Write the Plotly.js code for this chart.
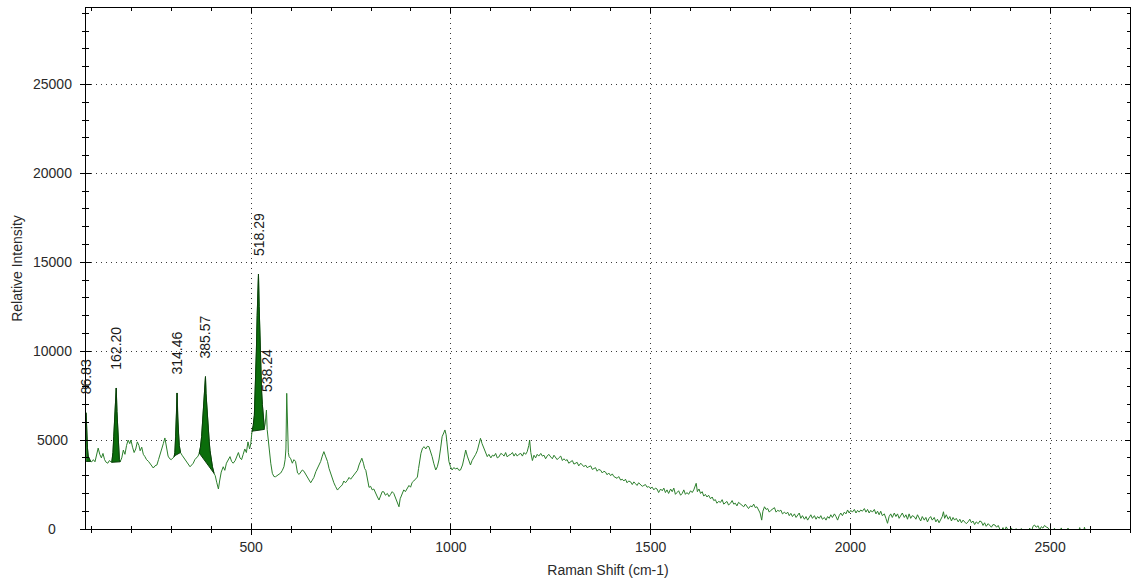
<!DOCTYPE html>
<html>
<head>
<meta charset="utf-8">
<script src="https://cdn.plot.ly/plotly-3.0.1.min.js"></script>
<style>
  html, body { margin: 0; padding: 0; background: #ffffff; }
  #chart { width: 1131px; height: 583px; }
</style>
</head>
<body>
<div id="chart"></div>
<script>
// Raman spectrum: shift (cm-1) and relative intensity
const ramanShift = [
  86.83, 88, 90, 92, 95, 98, 101, 105, 109, 113, 117, 121, 125, 129, 133, 137, 141, 145, 149,
  151, 154, 156, 158, 160, 162.2, 164, 166, 168, 170, 172, 176, 180, 184, 188, 192, 196, 199,
  203, 207, 211, 215, 219, 222, 226, 230, 234, 238, 243, 247, 251, 255, 259, 264, 268, 272,
  276, 280, 284, 288, 292, 296, 300, 304, 307, 309, 311, 313, 314.46, 316, 318, 320, 323,
  327, 330, 334, 338, 342, 347, 351, 355, 359, 363, 367, 370, 373, 376, 379, 381, 383, 385.57,
  387, 389, 391, 393, 395, 397, 400, 403, 407, 410, 414, 418, 421, 425, 430, 434, 438, 443,
  447, 451, 455, 460, 464, 468, 472, 476, 480, 484, 488, 492, 496, 499, 502, 505, 508, 511,
  513, 515, 516.5, 518.29, 520, 522, 524, 526, 528, 530, 533, 535, 538.24, 540, 543, 546, 549,
  553, 557, 561, 565, 570, 574, 578, 582, 585, 587, 589, 591, 593, 595, 599, 603, 607, 611,
  616, 620, 624, 628, 632, 636, 641, 645, 649, 653, 657, 662, 666, 670, 674, 678, 682, 686,
  691, 695, 699, 703, 707, 711, 716, 720, 724, 728, 732, 736, 741, 745, 749, 753, 757, 761,
  766, 770, 774, 777, 781, 784, 787, 791, 795, 799, 803, 807, 811, 816, 820, 824, 828, 832,
  836, 841, 845, 849, 853, 857, 861, 865, 868, 870, 873, 878, 882, 886, 891, 895, 899, 903,
  907, 911, 916, 919, 922, 925, 929, 933, 937, 941, 945, 949, 953, 957, 962, 966, 970, 974,
  978, 982, 985, 988, 991, 995, 999, 1003, 1007, 1012, 1016, 1020, 1024, 1029, 1033, 1037,
  1041, 1045, 1049, 1053, 1057, 1062, 1066, 1070, 1074, 1078, 1083, 1087, 1091, 1095, 1100,
  1104, 1108, 1112, 1116, 1120, 1125, 1129, 1133, 1137, 1141, 1145, 1150, 1154, 1158, 1162,
  1166, 1170, 1175, 1179, 1183, 1187, 1191, 1195, 1197, 1200, 1204, 1208, 1212, 1216, 1220,
  1225, 1229, 1233, 1237, 1241, 1245, 1250, 1254, 1258, 1262, 1266, 1270, 1275, 1279, 1283,
  1287, 1291, 1295, 1300, 1304, 1308, 1312, 1316, 1320, 1325, 1329, 1333, 1337, 1341, 1345,
  1350, 1354, 1358, 1362, 1366, 1370, 1375, 1379, 1383, 1387, 1391, 1395, 1400, 1404, 1408,
  1412, 1416, 1420, 1425, 1429, 1433, 1437, 1441, 1445, 1450, 1454, 1458, 1462, 1466, 1470,
  1475, 1479, 1483, 1487, 1491, 1495, 1500, 1504, 1508, 1512, 1516, 1520, 1525, 1529, 1533,
  1537, 1541, 1545, 1550, 1554, 1558, 1562, 1566, 1570, 1575, 1579, 1583, 1587, 1591, 1595,
  1600, 1604, 1608, 1612, 1614, 1617, 1621, 1625, 1629, 1633, 1637, 1641, 1645, 1650, 1654,
  1658, 1662, 1666, 1670, 1675, 1679, 1683, 1687, 1691, 1695, 1700, 1704, 1708, 1712, 1716,
  1720, 1725, 1729, 1733, 1737, 1741, 1745, 1750, 1754, 1758, 1762, 1766, 1770, 1774, 1778,
  1781, 1785, 1789, 1793, 1797, 1801, 1805, 1810, 1814, 1818, 1822, 1826, 1830, 1835, 1839,
  1843, 1847, 1851, 1855, 1860, 1864, 1868, 1872, 1876, 1880, 1885, 1889, 1893, 1897, 1901,
  1905, 1910, 1914, 1918, 1922, 1926, 1930, 1935, 1939, 1943, 1947, 1951, 1955, 1960, 1964,
  1968, 1972, 1976, 1980, 1985, 1989, 1993, 1997, 2001, 2005, 2010, 2014, 2018, 2022, 2026,
  2030, 2035, 2039, 2043, 2047, 2051, 2055, 2060, 2064, 2068, 2072, 2076, 2080, 2085, 2089,
  2093, 2097, 2101, 2105, 2110, 2114, 2118, 2122, 2126, 2130, 2135, 2139, 2143, 2147, 2151,
  2155, 2160, 2164, 2168, 2172, 2176, 2180, 2185, 2189, 2193, 2197, 2201, 2205, 2210, 2214,
  2218, 2222, 2226, 2230, 2233, 2236, 2240, 2245, 2249, 2253, 2257, 2261, 2265, 2270, 2274,
  2278, 2282, 2286, 2290, 2295, 2299, 2303, 2307, 2311, 2315, 2320, 2324, 2328, 2332, 2336,
  2340, 2345, 2349, 2353, 2357, 2362, 2366, 2370, 2374, 2378, 2382, 2386, 2390, 2395, 2399,
  2403, 2407, 2411, 2415, 2420, 2424, 2428, 2432, 2436, 2440, 2445, 2449, 2453, 2457, 2461,
  2465, 2470, 2474, 2478, 2482, 2486, 2490, 2495, 2499, 2503, 2507, 2511, 2515, 2520, 2524,
  2528, 2532, 2536, 2540, 2545, 2549, 2553, 2557, 2561, 2565, 2570, 2574, 2578, 2582, 2586,
  2590, 2595
];

const intensity = [
  6540, 5500, 4600, 4100, 3900, 3800, 3780, 3900, 3780, 4100, 4550, 4200, 4000, 4250, 3900, 3750, 3700, 3850, 3800,
  3750, 4300, 5200, 6400, 6900, 7930, 6600, 5600, 4600, 3900, 3780, 4000, 4440, 4200, 4700, 5000, 4800, 5000,
  4600, 4300, 4500, 4900, 4700, 4400, 4600, 4200, 4070, 3900, 3800, 3650, 3500, 3430, 3550, 3600, 3900, 4250,
  4500, 4800, 5120, 4600, 4100, 3950, 3900, 4000, 4050, 4300, 5200, 6500, 7650, 6300, 5400, 4700, 4300,
  4150, 4050, 3950, 3800, 3650, 3500, 3600, 3700, 3900, 4000, 4100, 4270, 4600, 5200, 6300, 7400, 8000, 8570,
  7600, 6800, 6000, 5400, 4900, 4400, 3900, 3500, 3130, 3000, 2600, 2250, 2700, 3200, 3500, 3300, 3700, 3900,
  4070, 3800, 3700, 3850, 4100, 4300, 4000, 3900, 4200, 4500, 4300, 4900, 4500, 4800, 5470, 5800, 6400, 8000,
  10000, 12000, 13300, 14340, 12500, 10500, 9000, 7800, 7000, 6300, 5700, 5900, 6690, 5600, 4800, 4200, 3700,
  3130, 2950, 2940, 3000, 3040, 3150, 3300, 3500, 3900, 4500, 7630, 5200, 4300, 4070, 3950, 3700, 3900, 3800,
  3150, 3070, 3200, 3320, 3250, 3100, 2980, 2800, 2600, 2750, 2900, 3230, 3400, 3600, 3800, 4100, 4350, 4100,
  3800, 3400, 3100, 2870, 2600, 2400, 2190, 2300, 2400, 2480, 2700, 2600, 2740, 2900, 2800, 2930, 3000, 3200,
  3300, 3600, 3800, 3980, 3700, 3400, 3300, 2800, 2340, 2400, 2200, 2250, 2000, 1800, 1630, 1900, 2100, 2090,
  1900, 2000, 1820, 1950, 2100, 2000, 1800, 1600, 1400, 1250, 1700, 2000, 2200, 2100, 2340, 2450, 2350, 2620,
  2700, 2800, 2920, 3400, 3900, 4260, 4550, 4630, 4500, 4650, 4630, 4400, 4070, 3700, 3320, 3500, 3880, 4500,
  5190, 5400, 5570, 5300, 4700, 3800, 3500, 3320, 3450, 3380, 3430, 3300, 3320, 3600, 4000, 4440,
  4100, 3800, 3600, 3850, 3990, 4200, 4400, 4700, 5100, 4800, 4500, 4260, 4070, 4200, 4000,
  4150, 4100, 4250, 4000, 4050, 4250, 4200, 4100, 4300, 4050, 4150, 4200, 4300, 4100, 4250,
  4100, 4200, 4250, 4100, 4300, 4200, 4350, 4700, 5000, 4300, 3850, 4150, 4000, 4200, 4100,
  4250, 4100, 4150, 3950, 4100, 4200, 4050, 3950, 4150, 4050, 3900, 4000, 4100, 3850, 3950,
  3850, 3900, 3700, 3800, 3850, 3650, 3700, 3750, 3550, 3700, 3600, 3500, 3600, 3450, 3500,
  3550, 3350, 3400, 3450, 3250, 3350, 3300, 3150, 3250, 3200, 3050, 3150, 3000, 3100, 2950,
  2900, 2850, 2950, 2750, 2800, 2700, 2800, 2600, 2700, 2650, 2500, 2650, 2550, 2450, 2600,
  2500, 2400, 2450, 2500, 2350, 2380, 2300, 2350, 2200, 2300, 2250, 2050, 2250, 2150, 2300,
  2050, 2200, 2000, 2250, 2100, 2300, 1950, 2050, 2150, 1900, 2000, 2200, 1950, 2050, 1950,
  2150, 2050, 2200, 2400, 2570, 2100, 2250, 2000, 2100, 1850, 1950, 1800, 1900, 1700, 1800,
  1600, 1650, 1450, 1550, 1500, 1650, 1400, 1500, 1550, 1350, 1450, 1600, 1400, 1450, 1300,
  1500, 1400, 1350, 1250, 1400, 1300, 1150, 1300, 1250, 1400, 1200, 1250, 1050, 900, 500,
  1000, 1250, 1100, 1150, 950, 1050, 1100, 1200, 950, 1050, 1000, 1060, 850, 950, 850,
  950, 750, 880, 700, 850, 650, 800, 900, 600, 750, 550, 700, 500, 650, 800,
  600, 750, 550, 700, 600, 750, 550, 650, 500, 700, 600, 800, 650, 850, 700,
  500, 750, 900, 750, 950, 850, 1070, 900, 1050, 950, 1100, 900, 1050, 950, 1070,
  1000, 1150, 950, 1100, 900, 1050, 950, 1100, 850, 1000, 800, 1000, 750, 850, 600,
  320, 700, 850, 650, 900, 700, 850, 600, 790, 900, 650, 800, 550, 850, 600,
  750, 690, 550, 800, 600, 450, 700, 500, 650, 400, 600, 700, 500, 650, 400,
  550, 350, 500, 700, 970, 600, 800, 550, 700, 450, 650, 500, 600, 400, 550,
  350, 500, 420, 300, 410, 550, 350, 450, 250, 400, 300, 450, 410, 200, 350,
  150, 300, 200, 100, 250, 225, 100, 200, 0, -100, 80, -150, 120, -50, -200,
  60, -120, -300, 20, -200, -100, 30, -250, -100, -300, -150, 50, -200, 150, 225,
  100, 180, -50, 130, 50, 200, 120, 60, -100, -250, -100, 40, -200, -350, -150,
  60, -200, -300, -100, 50, -250, -350, -200, -300, -150, -250, 80, -200, -300, 100,
  -250, -400
];

// Picked peaks and their labels
const peakPositions = [86.83, 162.20, 314.46, 385.57, 518.29, 538.24];
const peakLabels = ['86.83', '162.20', '314.46', '385.57', '518.29', '538.24'];

// Shaded peak areas: span of the curve and baseline level at each end
const fillStart = [86.83, 151, 307, 370, 502];
const fillEnd = [98, 172, 323, 407, 533];
const fillBaseStart = [3800, 3750, 4100, 4270, 5500];
const fillBaseEnd = [3800, 3780, 4300, 3130, 5600];

// Axis ticks
const xTickValues = [500, 1000, 1500, 2000, 2500];
const yTickValues = [0, 5000, 10000, 15000, 20000, 25000];
const xRange = [86.5, 2700];
const yRange = [0, 29300];

const lineColor = '#2c7f2c';
const fillColor = '#0b6d0b';
const fillEdge = '#0a3d0a';
const textColor = '#2a2a2a';
const fontFamily = 'Liberation Sans, Arial, sans-serif';
const numberSize = 14;
const titleSize = 14;

const traces = [];

traces.push({
  type: 'scatter', mode: 'lines',
  x: ramanShift, y: intensity,
  line: { color: lineColor, width: 1 },
  hoverinfo: 'x+y', showlegend: false
});

for (let k = 0; k < fillStart.length; k++) {
  const px = [], py = [];
  for (let i = 0; i < ramanShift.length; i++) {
    if (ramanShift[i] >= fillStart[k] && ramanShift[i] <= fillEnd[k]) {
      px.push(ramanShift[i]); py.push(intensity[i]);
    }
  }
  px.push(fillEnd[k], fillStart[k]);
  py.push(fillBaseEnd[k], fillBaseStart[k]);
  traces.push({
    type: 'scatter', mode: 'lines', x: px, y: py,
    fill: 'toself', fillcolor: fillColor,
    line: { color: fillEdge, width: 1 },
    hoverinfo: 'skip', showlegend: false
  });
}

// carrier for the inner-tick frame axes
traces.push({ type: 'scatter', x: [], y: [], xaxis: 'x2', yaxis: 'y2', showlegend: false, hoverinfo: 'skip' });

function peakHeight(pos) {
  let best = -Infinity;
  for (let i = 0; i < ramanShift.length; i++) {
    if (Math.abs(ramanShift[i] - pos) <= 3 && intensity[i] > best) best = intensity[i];
  }
  return best;
}

const annotations = [];
peakPositions.forEach((p, i) => {
  annotations.push({
    x: p, y: peakHeight(p), xref: 'x', yref: 'y',
    text: peakLabels[i], textangle: -90, showarrow: false,
    xanchor: 'center', yanchor: 'bottom', yshift: 16,
    font: { family: fontFamily, size: numberSize, color: '#1a1a1a' }
  });
});

const plotLeft = 86, plotWidth = 1044;
yTickValues.forEach(v => {
  annotations.push({
    x: (52 - plotLeft) / plotWidth, xref: 'paper', xanchor: 'center',
    y: v, yref: 'y', yanchor: 'middle',
    text: String(v), showarrow: false,
    font: { family: fontFamily, size: numberSize, color: textColor }
  });
});

const gridStyle = { showgrid: true, gridcolor: '#3a3a3a', gridwidth: 1, griddash: '1px,4px' };

const layout = {
  width: 1131, height: 583,
  margin: { l: 86, r: 1, t: 8, b: 54, pad: 0 },
  paper_bgcolor: '#ffffff', plot_bgcolor: '#ffffff',
  showlegend: false,
  font: { family: fontFamily, size: numberSize, color: textColor },
  xaxis: Object.assign({
    range: xRange, tickmode: 'array', tickvals: xTickValues,
    ticks: 'outside', ticklen: 5, tickwidth: 1, tickcolor: '#000',
    minor: { tickmode: 'linear', tick0: 0, dtick: 100, ticks: 'outside', ticklen: 3, tickcolor: '#000', showgrid: false },
    showline: true, linecolor: '#000', linewidth: 1, zeroline: false,
    tickfont: { family: fontFamily, size: numberSize, color: textColor },
    title: { text: 'Raman Shift (cm-1)', font: { family: fontFamily, size: titleSize, color: textColor }, standoff: 11 },
    automargin: false, fixedrange: true
  }, gridStyle),
  yaxis: Object.assign({
    range: yRange, tickmode: 'array', tickvals: yTickValues, showticklabels: false,
    ticks: 'outside', ticklen: 5, tickwidth: 1, tickcolor: '#000',
    minor: { tickmode: 'linear', tick0: 0, dtick: 1000, ticks: 'outside', ticklen: 3, tickcolor: '#000', showgrid: false },
    showline: true, linecolor: '#000', linewidth: 1, zeroline: false,
    title: { text: 'Relative Intensity', font: { family: fontFamily, size: titleSize, color: textColor }, standoff: 54 },
    automargin: false, fixedrange: true
  }, gridStyle),
  xaxis2: {
    overlaying: 'x', anchor: 'y2', side: 'bottom', range: xRange,
    tickmode: 'array', tickvals: xTickValues, showticklabels: false,
    ticks: 'inside', ticklen: 5, tickwidth: 1, tickcolor: '#000', mirror: 'ticks',
    minor: { tickmode: 'linear', tick0: 0, dtick: 100, ticks: 'inside', ticklen: 3, tickcolor: '#000', showgrid: false },
    showline: true, linecolor: '#000', linewidth: 1, showgrid: false, zeroline: false, fixedrange: true
  },
  yaxis2: {
    overlaying: 'y', anchor: 'x2', side: 'left', range: yRange,
    tickmode: 'array', tickvals: yTickValues, showticklabels: false,
    ticks: 'inside', ticklen: 5, tickwidth: 1, tickcolor: '#000', mirror: 'ticks',
    minor: { tickmode: 'linear', tick0: 0, dtick: 1000, ticks: 'inside', ticklen: 3, tickcolor: '#000', showgrid: false },
    showline: true, linecolor: '#000', linewidth: 1, showgrid: false, zeroline: false, fixedrange: true
  },
  annotations: annotations
};

Plotly.newPlot('chart', traces, layout, { displayModeBar: false, staticPlot: true });
</script>
</body>
</html>
